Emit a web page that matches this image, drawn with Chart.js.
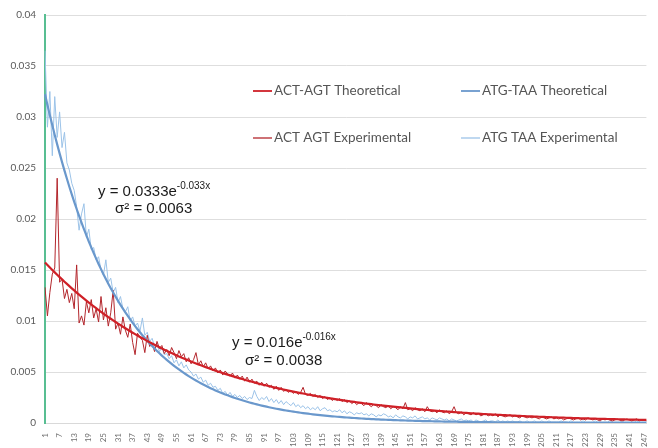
<!DOCTYPE html>
<html>
<head>
<meta charset="utf-8">
<script src="https://cdn.jsdelivr.net/npm/chart.js@4"></script>
<style>
  html, body { margin: 0; padding: 0; background: #ffffff; }
  #wrap { width: 658px; height: 448px; position: relative; }
</style>
</head>
<body>
<div id="wrap"><canvas id="c" width="658" height="448"></canvas></div>
<script>
// Position along the sequence (1 .. 248)
const positions = [];
for (let i = 1; i <= 248; i++) positions.push(i);

// Fitted exponential models y = a * e^(b x), with the variance of the residuals
const actFitA = 0.016,  actFitB = -0.016, actVariance = '0.0038';
const atgFitA = 0.0333, atgFitB = -0.033, atgVariance = '0.0063';

// Observed frequencies, ACT-AGT
const actExperimental = [
  0.0133, 0.0105, 0.0128, 0.0146, 0.0152, 0.0240, 0.0138, 0.0141, 0.0122, 0.0131,
  0.0118, 0.0127, 0.0112, 0.0155, 0.0098, 0.0105, 0.0096, 0.0119, 0.0108, 0.0121,
  0.0103, 0.0112, 0.0099, 0.0124, 0.0101, 0.0113, 0.0095, 0.0108, 0.0130, 0.0092,
  0.0098, 0.0087, 0.0104, 0.0091, 0.0084, 0.0097, 0.0079, 0.0067, 0.0088, 0.0084,
  0.0081, 0.0069, 0.0086, 0.0075, 0.0078, 0.0070, 0.0080, 0.0073, 0.0076, 0.0068,
  0.0072, 0.0066, 0.0074, 0.0069, 0.0063, 0.0071, 0.0065, 0.0068, 0.0060, 0.0064,
  0.0058, 0.0062, 0.0069, 0.0057, 0.0061, 0.0055, 0.0059, 0.0053, 0.0056, 0.0051,
  0.0054, 0.0049, 0.0052, 0.0047, 0.0051, 0.0048, 0.0046, 0.0049, 0.0044, 0.0047,
  0.0043, 0.0046, 0.0041, 0.0045, 0.0040, 0.0043, 0.0039, 0.0041, 0.0037, 0.0040,
  0.0036, 0.0039, 0.0035, 0.0037, 0.0033, 0.0036, 0.0032, 0.0035, 0.0031, 0.0033,
  0.0030, 0.0032, 0.0029, 0.0031, 0.0028, 0.0030, 0.0035, 0.0028, 0.0027, 0.0029,
  0.0026, 0.0028, 0.0025, 0.0027, 0.0024, 0.0026, 0.0023, 0.0025, 0.0022, 0.0024,
  0.0022, 0.0024, 0.0021, 0.0023, 0.0020, 0.0022, 0.0019, 0.0021, 0.0018, 0.0020,
  0.0019, 0.0017, 0.0020, 0.0018, 0.0016, 0.0018, 0.0017, 0.0015, 0.0018, 0.0016,
  0.0015, 0.0017, 0.0014, 0.0016, 0.0015, 0.0013, 0.0016, 0.0014, 0.0020, 0.0013,
  0.0014, 0.0012, 0.0015, 0.0013, 0.0012, 0.0014, 0.0011, 0.0016, 0.0012, 0.0011,
  0.0012, 0.0010, 0.0013, 0.0011, 0.0010, 0.0012, 0.0009, 0.0011, 0.0016, 0.0010,
  0.0009, 0.0011, 0.0008, 0.0010, 0.0009, 0.0008, 0.0010, 0.0008, 0.0009, 0.0007,
  0.0008, 0.0009, 0.0007, 0.0008, 0.0007, 0.0009, 0.0006, 0.0008, 0.0007, 0.0006,
  0.0007, 0.0008, 0.0006, 0.0007, 0.0006, 0.0005, 0.0007, 0.0006, 0.0005, 0.0006,
  0.0005, 0.0006, 0.0005, 0.0004, 0.0006, 0.0005, 0.0004, 0.0005, 0.0006, 0.0004,
  0.0005, 0.0004, 0.0005, 0.0003, 0.0004, 0.0005, 0.0004, 0.0003, 0.0004, 0.0005,
  0.0003, 0.0004, 0.0003, 0.0005, 0.0004, 0.0003, 0.0004, 0.0003, 0.0002, 0.0004,
  0.0003, 0.0004, 0.0003, 0.0002, 0.0003, 0.0004, 0.0003, 0.0002, 0.0003, 0.0004,
  0.0003, 0.0002, 0.0003, 0.0004, 0.0002, 0.0003, 0.0003, 0.0002
];

// Observed frequencies, ATG-TAA
const atgExperimental = [
  0.0365, 0.0290, 0.0325, 0.0262, 0.0320, 0.0280, 0.0305, 0.0270, 0.0285, 0.0255,
  0.0248, 0.0235, 0.0228, 0.0212, 0.0189, 0.0205, 0.0215, 0.0182, 0.0190, 0.0170,
  0.0172, 0.0160, 0.0163, 0.0150, 0.0145, 0.0160, 0.0138, 0.0142, 0.0128, 0.0133,
  0.0118, 0.0124, 0.0112, 0.0109, 0.0114, 0.0100, 0.0104, 0.0095, 0.0098, 0.0090,
  0.0103, 0.0086, 0.0089, 0.0080, 0.0083, 0.0075, 0.0078, 0.0070, 0.0074, 0.0067,
  0.0068, 0.0063, 0.0066, 0.0059, 0.0062, 0.0056, 0.0060, 0.0054, 0.0057, 0.0052,
  0.0050, 0.0046, 0.0048, 0.0043, 0.0045, 0.0040, 0.0042, 0.0037, 0.0039, 0.0035,
  0.0036, 0.0032, 0.0034, 0.0029, 0.0031, 0.0027, 0.0030, 0.0026, 0.0028, 0.0025,
  0.0027, 0.0024, 0.0026, 0.0023, 0.0025, 0.0024, 0.0032, 0.0026, 0.0022, 0.0025,
  0.0023, 0.0026, 0.0021, 0.0024, 0.0020, 0.0023, 0.0019, 0.0022, 0.0018, 0.0021,
  0.0019, 0.0017, 0.0020, 0.0016, 0.0018, 0.0015, 0.0017, 0.0014, 0.0016, 0.0013,
  0.0015, 0.0013, 0.0016, 0.0012, 0.0014, 0.0015, 0.0012, 0.0013, 0.0011, 0.0012,
  0.0011, 0.0013, 0.0010, 0.0012, 0.0009, 0.0011, 0.0010, 0.0008, 0.0010, 0.0009,
  0.0010, 0.0008, 0.0009, 0.0007, 0.0009, 0.0008, 0.0006, 0.0008, 0.0007, 0.0009,
  0.0008, 0.0006, 0.0007, 0.0005, 0.0008, 0.0006, 0.0005, 0.0007, 0.0006, 0.0004,
  0.0006, 0.0005, 0.0007, 0.0004, 0.0005, 0.0006, 0.0004, 0.0005, 0.0003, 0.0005,
  0.0004, 0.0003, 0.0005, 0.0004, 0.0003, 0.0004, 0.0002, 0.0004, 0.0003, 0.0002,
  0.0003, 0.0004, 0.0002, 0.0003, 0.0002, 0.0003, 0.0001, 0.0003, 0.0002, 0.0001,
  0.0002, 0.0003, 0.0001, 0.0002, 0.0002, 0.0001, 0.0003, 0.0001, 0.0002, 0.0001,
  0.0002, 0.0001, 0.0002, 0.0001, 0.0001, 0.0002, 0.0001, 0.0001, 0.0002, 0.0001,
  0.0001, 0.0002, 0.0001, 0.0001, 0.0002, 0.0001, 0.0001, 0.0002, 0.0001, 0.0001,
  0.0001, 0.0001, 0.0002, 0.0001, 0.0001, 0.0001, 0.0002, 0.0001, 0.0001, 0.0001,
  0.0001, 0.0002, 0.0001, 0.0001, 0.0001, 0.0001, 0.0002, 0.0001, 0.0001, 0.0001,
  0.0001, 0.0001, 0.0002, 0.0001, 0.0001, 0.0001, 0.0001, 0.0002, 0.0001, 0.0001,
  0.0001, 0.0001, 0.0001, 0.0002, 0.0001, 0.0001, 0.0001, 0.0001
];

// Model curves evaluated from the fitted parameters shown on the chart
const actTheoretical = positions.map(x => actFitA * Math.exp(actFitB * x));
const atgTheoretical = positions.map(x => atgFitA * Math.exp(atgFitB * x));

const seriesNames = ['ACT-AGT Theoretical', 'ATG-TAA Theoretical', 'ACT AGT Experimental', 'ATG TAA Experimental'];
const yTicks = [0, 0.005, 0.01, 0.015, 0.02, 0.025, 0.03, 0.035, 0.04];

const colors = {
  actTheo: '#cf2027',
  atgTheo: '#6a98cc',
  actExp: '#b3262c',
  atgExp: '#9cc3e8'
};

// Legend drawn as a 2x2 block inside the plotting area
const legendBlock = {
  id: 'legendBlock',
  afterDatasetsDraw(chart) {
    const ctx = chart.ctx;
    const items = [
      { text: seriesNames[0], color: colors.actTheo, w: 1.8, x: 253, y: 91 },
      { text: seriesNames[1], color: colors.atgTheo, w: 1.8, x: 461, y: 91 },
      { text: seriesNames[2], color: colors.actExp, w: 1.3, x: 253, y: 138 },
      { text: seriesNames[3], color: colors.atgExp, w: 1.3, x: 461, y: 138 }
    ];
    ctx.save();
    ctx.font = '13.5px Lato, "Liberation Sans", sans-serif';
    ctx.textBaseline = 'middle';
    ctx.fillStyle = '#555555';
    items.forEach(it => {
      ctx.strokeStyle = it.color;
      ctx.lineWidth = it.w;
      ctx.beginPath();
      ctx.moveTo(it.x, it.y);
      ctx.lineTo(it.x + 19, it.y);
      ctx.stroke();
      ctx.fillText(it.text, it.x + 21, it.y);
    });
    ctx.restore();
  }
};

// Fit equations with superscript exponents
const fitLabels = {
  id: 'fitLabels',
  afterDatasetsDraw(chart) {
    const ctx = chart.ctx;
    const labels = [
      { a: atgFitA, b: atgFitB, v: atgVariance, x: 98, y1: 196, x2: 115, y2: 213 },
      { a: actFitA, b: actFitB, v: actVariance, x: 232, y1: 347, x2: 245, y2: 365 }
    ];
    ctx.save();
    ctx.fillStyle = '#1a1a1a';
    ctx.textBaseline = 'alphabetic';
    labels.forEach(l => {
      ctx.font = '15px "Liberation Sans", Arial, sans-serif';
      const main = 'y = ' + l.a + 'e';
      ctx.fillText(main, l.x, l.y1);
      const w = ctx.measureText(main).width;
      ctx.font = '10px "Liberation Sans", Arial, sans-serif';
      ctx.fillText(l.b + 'x', l.x + w, l.y1 - 7);
      ctx.font = '15px "Liberation Sans", Arial, sans-serif';
      ctx.fillText('\u03C3\u00B2 = ' + l.v, l.x2, l.y2);
    });
    ctx.restore();
  }
};

new Chart(document.getElementById('c'), {
  type: 'line',
  data: {
    labels: positions,
    datasets: [
      { label: seriesNames[0], data: actTheoretical, borderColor: colors.actTheo, borderWidth: 2.2 },
      { label: seriesNames[1], data: atgTheoretical, borderColor: colors.atgTheo, borderWidth: 2.2 },
      { label: seriesNames[2], data: actExperimental, borderColor: colors.actExp, borderWidth: 1 },
      { label: seriesNames[3], data: atgExperimental, borderColor: colors.atgExp, borderWidth: 1 }
    ]
  },
  options: {
    responsive: false,
    animation: false,
    devicePixelRatio: 1,
    layout: { padding: { top: 14, right: 3, left: 0, bottom: 0 } },
    elements: {
      point: { radius: 0, hoverRadius: 0 },
      line: { tension: 0, fill: false }
    },
    plugins: {
      legend: { display: false },
      tooltip: { enabled: false }
    },
    scales: {
      x: {
        type: 'category',
        offset: false,
        grid: { display: false },
        border: { display: true, color: '#d9d9d9' },
        afterFit(scale) { scale.height = 25; },
        ticks: {
          autoSkip: false,
          minRotation: 90,
          maxRotation: 90,
          padding: 2,
          color: '#6f6f6f',
          font: { size: 8, family: 'Lato, "Liberation Sans", sans-serif' },
          callback(value, index) {
            return index % 6 === 0 ? String(positions[index]) : '';
          }
        }
      },
      y: {
        min: 0,
        max: 0.04,
        afterFit(scale) { scale.width = 45; },
        afterBuildTicks(scale) { scale.ticks = yTicks.map(v => ({ value: v })); },
        grid: { color: '#dedede', lineWidth: 1, drawTicks: false },
        border: { display: true, color: '#58be92', width: 2 },
        ticks: {
          padding: 9,
          color: '#595959',
          font: { size: 10, family: 'Lato, "Liberation Sans", sans-serif' },
          callback(v) { return String(+v.toFixed(3)); }
        }
      }
    }
  },
  plugins: [legendBlock, fitLabels]
});
</script>
</body>
</html>
